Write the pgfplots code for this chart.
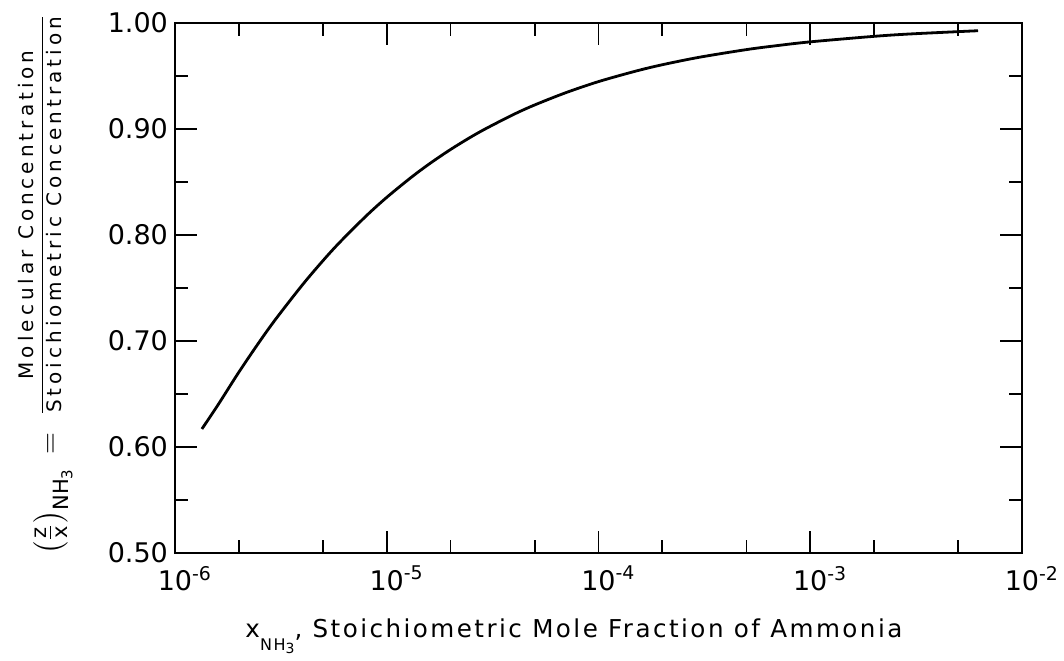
\documentclass[border=0pt]{standalone}
\usepackage{amsmath}
\usepackage{fontspec}
\setmainfont{DejaVu Sans}
\newfontfamily\xlabfont[LetterSpace=10]{DejaVu Sans}
\newfontfamily\ylabfont[LetterSpace=20]{DejaVu Sans}
\usepackage{pgfplots}
\pgfplotsset{compat=1.18}
\begin{document}
\begin{tikzpicture}
\begin{axis}[
  scale only axis,
  width=423.5pt, height=265pt,
  xmode=log,
  xmin=1e-6, xmax=1e-2,
  ymin=0.5, ymax=1.0,
  xtick={1e-6,1e-5,1e-4,1e-3,1e-2},
  xticklabels={10\rlap{\textsuperscript{-6}},10\rlap{\textsuperscript{-5}},10\rlap{\textsuperscript{-4}},10\rlap{\textsuperscript{-3}},10\rlap{\textsuperscript{-2}}},
  minor xtick={2e-6,5e-6,2e-5,5e-5,2e-4,5e-4,2e-3,5e-3},
  ytick={0.5,0.6,0.7,0.8,0.9,1.0},
  minor ytick={0.55,0.65,0.75,0.85,0.95},
  yticklabel style={/pgf/number format/.cd, fixed, fixed zerofill, precision=2, assume math mode=true},
  tick label style={font=\fontsize{13.5}{16}\selectfont},
  xticklabel style={yshift=-3pt},
  major tick length=11pt,
  minor tick length=6.5pt,
  every tick/.style={black, line width=0.9pt},
  axis line style={line width=1.1pt},
  clip=false,
]
\addplot[black, line width=1.4pt, smooth] table {
x y
1.34e-6 0.6170
1.6e-6 0.6400
2e-6 0.6704
2.5e-6 0.6990
3e-6 0.7210
4e-6 0.7530
5e-6 0.7758
6e-6 0.7931
8e-6 0.8180
1e-5 0.8355
1.3e-5 0.8541
1.6e-5 0.8675
2e-5 0.8806
2.5e-5 0.8925
3e-5 0.9013
4e-5 0.9140
5e-5 0.9227
7e-5 0.9342
1e-4 0.9447
1.5e-4 0.9546
2e-4 0.9606
3e-4 0.9677
5e-4 0.9749
7e-4 0.9787
1e-3 0.9822
2e-3 0.9874
3e-3 0.9897
6.2e-3 0.9927
};
\coordinate (sw) at (rel axis cs:0,0);
\coordinate (ne) at (rel axis cs:1,1);
\node[rotate=90, anchor=center, font=\fontsize{10}{12}\ylabfont] at ([xshift=-67.5pt]rel axis cs:0,0.638)
  {$\dfrac{\text{Molecular Concentration}}{\text{Stoichiometric Concentration}}$};
\node[rotate=90, anchor=center, font=\fontsize{15}{17}\selectfont] at ([xshift=-61pt]rel axis cs:0,0.112)
  {$\left(\tfrac{\text{z}}{\text{x}}\right)_{\text{NH}_{\text{3}}}\,=$};
\node[anchor=base, font=\fontsize{12.3}{14}\xlabfont] at ([yshift=-42.5pt]rel axis cs:0.471,0)
  {x\raisebox{-0.9ex}{\footnotesize NH\raisebox{-0.4ex}{\scriptsize 3}}, Stoichiometric Mole Fraction of Ammonia};
\end{axis}
\pgfresetboundingbox
\path ([shift={(-87.5pt,-54pt)}]sw) rectangle ([shift={(21pt,11.5pt)}]ne);
\end{tikzpicture}
\end{document}
